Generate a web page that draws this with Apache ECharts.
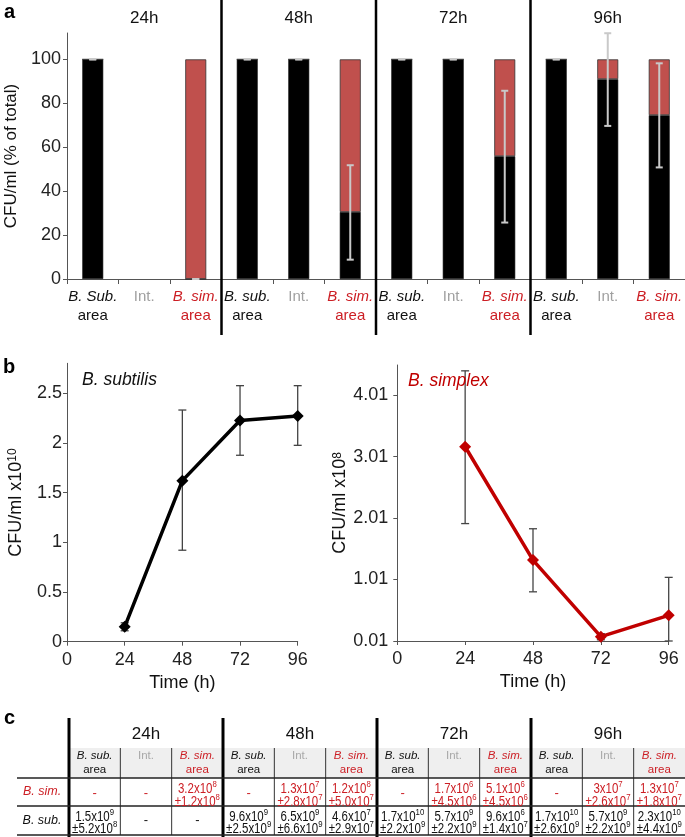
<!DOCTYPE html>
<html><head><meta charset="utf-8">
<script src="https://cdn.jsdelivr.net/npm/echarts@6/dist/echarts.min.js"></script>
<style>html,body{margin:0;padding:0;background:#fff}#c{width:685px;height:837px}</style>
</head><body><div id="c"></div>
<script>
const FONT = '"Liberation Sans", Arial, Helvetica, sans-serif';
const RED_TXT = '#cc1e24';
const RED_BAR = '#c0504d';
const RED_LINE = '#c00000';
const AX = '#555';

// ---------- Panel a ----------
const periods = ['24h', '48h', '72h', '96h'];
const areaCats = ['B. Sub.\narea', 'Int.', 'B. sim.\narea',
                  'B. sub.\narea', 'Int.', 'B. sim.\narea',
                  'B. sub.\narea', 'Int.', 'B. sim.\narea',
                  'B. sub.\narea', 'Int.', 'B. sim.\narea'];
const bsubPct    = [100, null, 0, 100, 100, 30.5, 100, 100, 55.9, 100, 91.0, 74.6];
const bsimPct    = [0, null, 100, 0, 0, 69.5, 0, 0, 44.1, 0, 9.0, 25.4];
const pctErrLow  = [100, null, 0, 100, 100, 8.8, 100, 100, 25.7, 100, 69.7, 50.8];
const pctErrHigh = [100, null, 0, 100, 100, 51.8, 100, 100, 85.7, 100, 111.9, 98.2];
const pctTicks   = [0, 20, 40, 60, 80, 100];

// ---------- Panel b ----------
const hours     = [24, 48, 72, 96];
const hourTicks = [0, 24, 48, 72, 96];
const bsubCFU   = [0.15, 1.62, 2.225, 2.27];
const bsubLow   = [0.11, 0.92, 1.875, 1.975];
const bsubHigh  = [0.19, 2.33, 2.575, 2.575];
const bsubTicks = [0, 0.5, 1, 1.5, 2, 2.5];
const bsimCFU   = [3.17, 1.327, 0.08, 0.428];
const bsimLow   = [1.92, 0.81, 0.03, 0.01];
const bsimHigh  = [4.405, 1.836, 0.13, 1.045];
const bsimTicks = [0.01, 1.01, 2.01, 3.01, 4.01];

// ---------- Panel c ----------
const subCols  = ['B. sub.\narea', 'Int.', 'B. sim.\narea'];
const rowNames = ['B. sim.', 'B. sub.'];
const tblBsimMean = ['-', '-', '3.2x10^8', '-', '1.3x10^7', '1.2x10^8', '-', '1.7x10^6', '5.1x10^6', '-', '3x10^7', '1.3x10^7'];
const tblBsimSD   = ['', '', '±1.2x10^8', '', '±2.8x10^7', '±5.0x10^7', '', '±4.5x10^6', '±4.5x10^6', '', '±2.6x10^7', '±1.8x10^7'];
const tblBsubMean = ['1.5x10^9', '-', '-', '9.6x10^9', '6.5x10^9', '4.6x10^7', '1.7x10^10', '5.7x10^9', '9.6x10^6', '1.7x10^10', '5.7x10^9', '2.3x10^10'];
const tblBsubSD   = ['±5.2x10^8', '', '', '±2.5x10^9', '±6.6x10^9', '±2.9x10^7', '±2.2x10^9', '±2.2x10^9', '±1.4x10^7', '±2.6x10^9', '±2.2x10^9', '±4.4x10^9'];

function catKind(l1) { return l1.startsWith('Int') ? 'int' : (l1.indexOf('sim') >= 0 ? 'sim' : 'sub'); }
function catFormatter(v) {
  const parts = v.split('\n');
  const k = catKind(parts[0]);
  if (parts.length > 1) return '{' + k + 'I|' + parts[0] + '}\n{' + k + '|' + parts[1] + '}';
  return '{' + k + '|' + parts[0] + '}';
}
const catRich = {
  subI: {fontStyle: 'italic', color: '#111', fontSize: 15, lineHeight: 19, fontFamily: FONT},
  sub:  {color: '#111', fontSize: 15, lineHeight: 19, fontFamily: FONT},
  int:  {color: '#a0a0a0', fontSize: 15, lineHeight: 19, fontFamily: FONT},
  simI: {fontStyle: 'italic', color: RED_TXT, fontSize: 15, lineHeight: 19, fontFamily: FONT},
  sim:  {color: RED_TXT, fontSize: 15, lineHeight: 19, fontFamily: FONT}
};

function errRender(color, lw, capHalf) {
  return function (params, api) {
    const x = api.value(0), lo = api.value(1), hi = api.value(2);
    const a = api.coord([x, hi]), b = api.coord([x, lo]);
    const st = {stroke: color, lineWidth: lw};
    return {type: 'group', children: [
      {type: 'line', shape: {x1: a[0], y1: a[1], x2: b[0], y2: b[1]}, style: st},
      {type: 'line', shape: {x1: a[0] - capHalf, y1: a[1], x2: a[0] + capHalf, y2: a[1]}, style: st},
      {type: 'line', shape: {x1: b[0] - capHalf, y1: b[1], x2: b[0] + capHalf, y2: b[1]}, style: st}
    ]};
  };
}

const axisNameRich = {
  b:   {fontSize: 18, lineHeight: 20, verticalAlign: 'bottom', fontFamily: FONT, color: '#111'},
  sup: {fontSize: 12, lineHeight: 12, verticalAlign: 'top', fontFamily: FONT, color: '#111'}
};

const tickLbl = {color: '#222', fontSize: 18, fontFamily: FONT};

const option = {
  backgroundColor: '#fff',
  animation: false,
  grid: [
    {left: 67, top: 33, width: 618, height: 246, outerBoundsMode: 'none', containLabel: false},
    {left: 67, top: 363.3, width: 230.7, height: 278.4, outerBoundsMode: 'none', containLabel: false},
    {left: 397.3, top: 365, width: 271.4, height: 276, outerBoundsMode: 'none', containLabel: false}
  ],
  xAxis: [
    {type: 'category', gridIndex: 0, data: areaCats, boundaryGap: true,
     axisLine: {lineStyle: {color: AX, width: 1}},
     axisTick: {show: true, length: 5, lineStyle: {color: AX}},
     axisLabel: {interval: 0, margin: 8, formatter: catFormatter, rich: catRich, fontFamily: FONT},
     splitLine: {show: false}},
    {type: 'value', gridIndex: 1, min: 0, max: 96, interval: 24,
     axisLine: {show: true, lineStyle: {color: AX}},
     axisTick: {show: true, length: 4, lineStyle: {color: AX}},
     axisLabel: Object.assign({margin: 9}, tickLbl),
     splitLine: {show: false},
     name: 'Time (h)', nameLocation: 'middle', nameGap: 32,
     nameTextStyle: {fontSize: 18, color: '#111', fontFamily: FONT}},
    {type: 'value', gridIndex: 2, min: 0, max: 96, interval: 24,
     axisLine: {show: true, lineStyle: {color: AX}},
     axisTick: {show: true, length: 4, lineStyle: {color: AX}},
     axisLabel: Object.assign({margin: 9}, tickLbl),
     splitLine: {show: false},
     name: 'Time (h)', nameLocation: 'middle', nameGap: 32,
     nameTextStyle: {fontSize: 18, color: '#111', fontFamily: FONT}}
  ],
  yAxis: [
    {type: 'value', gridIndex: 0, min: 0, max: 112,
     axisLine: {show: true, lineStyle: {color: AX}},
     axisTick: {show: true, length: 4, customValues: pctTicks, lineStyle: {color: AX}},
     axisLabel: Object.assign({margin: 6, customValues: pctTicks}, tickLbl),
     splitLine: {show: false},
     name: 'CFU/ml (% of total)', nameLocation: 'middle', nameGap: 47,
     nameTextStyle: {fontSize: 17, color: '#111', fontFamily: FONT}},
    {type: 'value', gridIndex: 1, min: 0, max: 2.8,
     axisLine: {show: true, lineStyle: {color: AX}},
     axisTick: {show: true, length: 4, customValues: bsubTicks, lineStyle: {color: AX}},
     axisLabel: Object.assign({margin: 5, customValues: bsubTicks}, tickLbl),
     splitLine: {show: false},
     name: 'CFU/ml x10{sup|10}', nameLocation: 'middle', nameGap: 42,
     nameTextStyle: {fontSize: 18, color: '#111', fontFamily: FONT, rich: axisNameRich}},
    {type: 'value', gridIndex: 2, min: 0.01, max: 4.5,
     axisLine: {show: true, lineStyle: {color: AX}},
     axisTick: {show: true, length: 4, customValues: bsimTicks, lineStyle: {color: AX}},
     axisLabel: Object.assign({margin: 9, customValues: bsimTicks, formatter: v => v.toFixed(2)}, tickLbl),
     splitLine: {show: false},
     name: 'CFU/ml x10{sup|8}', nameLocation: 'middle', nameGap: 45,
     nameTextStyle: {fontSize: 18, color: '#111', fontFamily: FONT, rich: axisNameRich}}
  ],
  series: [
    {type: 'bar', xAxisIndex: 0, yAxisIndex: 0, stack: 'pct', data: bsubPct, barWidth: 21,
     itemStyle: {color: '#000', borderColor: '#222', borderWidth: 0.6}, silent: true},
    {type: 'bar', xAxisIndex: 0, yAxisIndex: 0, stack: 'pct', data: bsimPct, barWidth: 21,
     itemStyle: {color: RED_BAR, borderColor: '#333', borderWidth: 0.8}, silent: true},
    {type: 'custom', xAxisIndex: 0, yAxisIndex: 0, z: 5,
     renderItem: errRender('#c9c9c9', 2, 3.5),
     encode: {x: 0, y: [1, 2]},
     data: areaCats.map((c, i) => pctErrLow[i] == null ? null : [i, pctErrLow[i], pctErrHigh[i]]).filter(d => d)},
    {type: 'custom', xAxisIndex: 1, yAxisIndex: 1, z: 2,
     renderItem: errRender('#444', 1.3, 4),
     encode: {x: 0, y: [1, 2]},
     data: hours.map((h, i) => [h, bsubLow[i], bsubHigh[i]])},
    {type: 'line', xAxisIndex: 1, yAxisIndex: 1, z: 4,
     data: hours.map((h, i) => [h, bsubCFU[i]]),
     symbol: 'diamond', symbolSize: 12,
     lineStyle: {color: '#000', width: 3.5}, itemStyle: {color: '#000'}},
    {type: 'custom', xAxisIndex: 2, yAxisIndex: 2, z: 2,
     renderItem: errRender('#444', 1.3, 4),
     encode: {x: 0, y: [1, 2]},
     data: hours.map((h, i) => [h, bsimLow[i], bsimHigh[i]])},
    {type: 'line', xAxisIndex: 2, yAxisIndex: 2, z: 4,
     data: hours.map((h, i) => [h, bsimCFU[i]]),
     symbol: 'diamond', symbolSize: 12,
     lineStyle: {color: RED_LINE, width: 3.5}, itemStyle: {color: RED_LINE}}
  ]
};

const chart = echarts.init(document.getElementById('c'));
chart.setOption(option);

// ---------- annotations ----------
const g = [];
function txt(x, y, s, o) {
  o = o || {};
  return {type: 'text', x: x, y: y, z: 100, scaleX: o.scaleX || 1,
    style: {text: s, align: o.align || 'center', verticalAlign: o.va || 'middle',
      fill: o.fill || '#111', fontSize: o.fontSize || 16, fontFamily: FONT,
      fontStyle: o.fontStyle || 'normal', fontWeight: o.fontWeight || 'normal',
      lineHeight: o.lineHeight, rich: o.rich}};
}
function vline(x, y1, y2, w, c) { return {type: 'line', z: 90, shape: {x1: x, y1: y1, x2: x, y2: y2}, style: {stroke: c || '#000', lineWidth: w}}; }
function hline(y, x1, x2, w, c) { return {type: 'line', z: 90, shape: {x1: x1, y1: y, x2: x2, y2: y}, style: {stroke: c || '#000', lineWidth: w}}; }

// panel letters
g.push(txt(4, 12, 'a', {align: 'left', fontSize: 20, fontWeight: 'bold', fill: '#000'}));
g.push(txt(3, 367, 'b', {align: 'left', fontSize: 20, fontWeight: 'bold', fill: '#000'}));
g.push(txt(4, 718, 'c', {align: 'left', fontSize: 20, fontWeight: 'bold', fill: '#000'}));

// panel a period separators and titles
const px = i => chart.convertToPixel({xAxisIndex: 0}, i);
const halfCat = (px(1) - px(0)) / 2;
for (let k = 1; k < periods.length; k++) {
  g.push(vline(px(3 * k) - halfCat, 0, 335, 2.5));
}
periods.forEach((p, k) => g.push(txt(px(3 * k + 1), 18, p, {fontSize: 17})));

// panel b species names
g.push(txt(82, 380, 'B. subtilis', {align: 'left', fontSize: 17.5, fontStyle: 'italic'}));
g.push(txt(408, 381, 'B. simplex', {align: 'left', fontSize: 17.5, fontStyle: 'italic', fill: RED_LINE}));

// ---------- panel c table ----------
const tL = 69, tR = 685, colW = (tR - tL) / 12;
const subTop = 748, r1 = 778, r2 = 806, r3 = 835;
g.push({type: 'rect', z: 80, shape: {x: tL, y: subTop, width: tR - tL, height: r1 - subTop}, style: {fill: '#efefef'}});
for (let j = 0; j <= 12; j++) {
  const x = tL + j * colW;
  if (j % 3 === 0) { if (j < 12) g.push(vline(x, 718, 837, 3)); }
  else g.push(vline(x, subTop, r3, 1, '#333'));
}
g.push(hline(r1, 17, tR, 1.5, '#222'));
g.push(hline(r2, 17, tR, 1.5, '#222'));
g.push(hline(r3, 17, tR, 1.5, '#222'));
periods.forEach((p, k) => g.push(txt(tL + (3 * k + 1.5) * colW, 734, p, {fontSize: 17})));

const SUBF = 11.5;
const subRich = {
  subI: {fontStyle: 'italic', fill: '#111', fontSize: SUBF, lineHeight: 13.5, fontFamily: FONT},
  sub:  {fill: '#111', fontSize: SUBF, lineHeight: 13.5, fontFamily: FONT},
  int:  {fill: '#a8a8a8', fontSize: SUBF, lineHeight: 13.5, fontFamily: FONT},
  simI: {fontStyle: 'italic', fill: RED_TXT, fontSize: SUBF, lineHeight: 13.5, fontFamily: FONT},
  sim:  {fill: RED_TXT, fontSize: SUBF, lineHeight: 13.5, fontFamily: FONT}
};
for (let j = 0; j < 12; j++) {
  const s = subCols[j % 3];
  g.push(txt(tL + (j + 0.5) * colW, 749.5, catFormatter(s), {va: 'top', rich: subRich, fontSize: SUBF}));
}
g.push(txt(42, 792, rowNames[0], {fontSize: 12.5, fontStyle: 'italic', fill: RED_TXT}));
g.push(txt(42, 820.5, rowNames[1], {fontSize: 12.5, fontStyle: 'italic', fill: '#111'}));

function richify(s) {
  return s.split(/(\^\d+)/).filter(p => p.length).map(p => p[0] === '^' ? '{sup|' + p.slice(1) + '}' : '{b|' + p + '}').join('');
}
function cellRich(color) {
  return {
    b:   {fontSize: 14, lineHeight: 17, verticalAlign: 'bottom', fill: color, fontFamily: FONT},
    sup: {fontSize: 9.5, lineHeight: 10, verticalAlign: 'top', fill: color, fontFamily: FONT}
  };
}
function addCell(j, mean, sd, top, color) {
  const x = tL + (j + 0.5) * colW;
  if (mean === '-') {
    g.push(txt(x, top + 15, '-', {fontSize: 13, fill: color}));
    return;
  }
  g.push(txt(x, top + 12 - 2, richify(mean), {rich: cellRich(color), scaleX: 0.82, fontSize: 14, fill: color}));
  if (sd) g.push(txt(x, top + 24.5 - 2, richify(sd), {rich: cellRich(color), scaleX: 0.82, fontSize: 14, fill: color}));
}
for (let j = 0; j < 12; j++) {
  addCell(j, tblBsimMean[j], tblBsimSD[j], r1, RED_TXT);
  addCell(j, tblBsubMean[j], tblBsubSD[j], r2 - 0.5, '#111');
}

chart.setOption({graphic: {elements: g}});
</script>
</body></html>
